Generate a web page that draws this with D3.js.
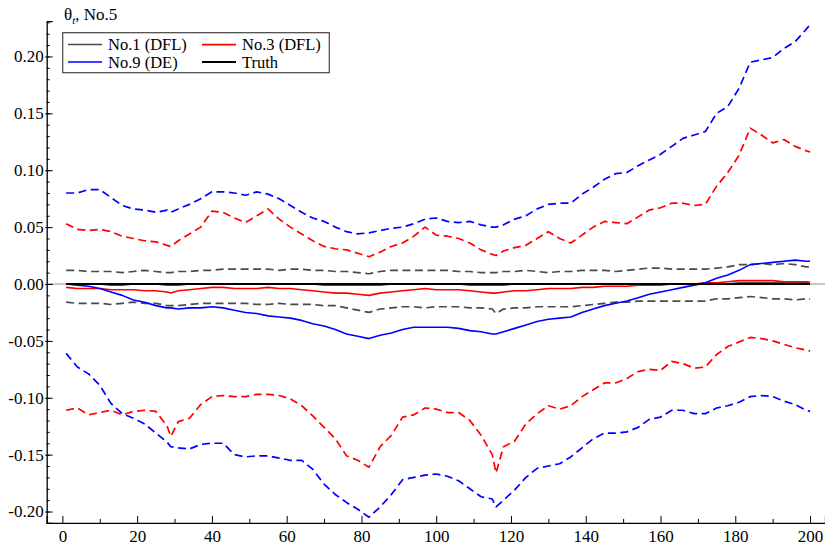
<!DOCTYPE html>
<html>
<head>
<meta charset="utf-8">
<script src="https://cdn.jsdelivr.net/npm/d3@7"></script>
<style>
  html, body { margin: 0; padding: 0; background: #fff; }
  svg { display: block; }
  text { font-family: "Liberation Serif", "Times New Roman", serif; fill: #000; }
</style>
</head>
<body>
<svg id="chart" width="825" height="548"></svg>
<script>
// ---------------- DATA ----------------
const steps = [1,4,7,10,13,16,19,22,25,28,29,31,34,37,40,43,46,49,52,55,58,61,64,67,70,73,76,79,82,85,88,91,94,97,100,103,106,109,112,115,116,118,121,124,127,130,133,136,139,142,145,148,151,154,157,160,163,166,169,172,175,178,181,184,187,190,193,196,199,200];

const no1Upper = [0.012,0.012,0.011,0.011,0.011,0.010,0.011,0.012,0.011,0.010,0.010,0.011,0.011,0.012,0.012,0.013,0.013,0.013,0.013,0.013,0.012,0.013,0.013,0.012,0.012,0.011,0.011,0.010,0.009,0.011,0.012,0.012,0.012,0.012,0.012,0.012,0.011,0.011,0.010,0.010,0.010,0.011,0.011,0.012,0.011,0.010,0.011,0.011,0.012,0.012,0.012,0.011,0.012,0.013,0.014,0.014,0.013,0.013,0.013,0.013,0.014,0.015,0.017,0.017,0.018,0.017,0.018,0.017,0.015,0.015];
const no1Mean  = [0.000,0.000,0.000,0.000,-0.001,-0.001,0.000,0.000,0.000,-0.001,-0.001,-0.001,0.000,0.000,0.000,0.000,0.000,0.000,0.000,0.000,0.000,0.000,0.000,0.000,-0.001,-0.001,-0.001,-0.001,-0.001,-0.001,0.000,0.000,0.000,0.000,0.000,0.000,0.000,-0.001,-0.001,-0.001,-0.001,-0.001,0.000,0.000,0.000,0.000,0.000,0.000,0.000,0.000,0.000,0.000,0.000,0.000,0.000,0.000,0.000,0.000,0.000,0.000,0.000,0.000,0.001,0.001,0.001,0.001,0.001,0.001,0.001,0.001];
const no1Lower = [-0.016,-0.017,-0.017,-0.017,-0.018,-0.017,-0.016,-0.017,-0.017,-0.019,-0.019,-0.019,-0.018,-0.017,-0.017,-0.017,-0.017,-0.017,-0.018,-0.018,-0.017,-0.018,-0.018,-0.018,-0.019,-0.019,-0.021,-0.023,-0.025,-0.022,-0.021,-0.020,-0.020,-0.021,-0.020,-0.020,-0.020,-0.021,-0.021,-0.022,-0.026,-0.022,-0.021,-0.021,-0.020,-0.020,-0.020,-0.020,-0.019,-0.018,-0.017,-0.016,-0.016,-0.015,-0.015,-0.015,-0.015,-0.015,-0.015,-0.015,-0.013,-0.013,-0.012,-0.011,-0.012,-0.013,-0.013,-0.014,-0.013,-0.013];

const no3Upper = [0.053,0.048,0.047,0.048,0.046,0.042,0.040,0.038,0.037,0.034,0.033,0.038,0.044,0.050,0.064,0.063,0.058,0.054,0.060,0.066,0.057,0.050,0.044,0.038,0.033,0.031,0.030,0.027,0.024,0.028,0.033,0.036,0.042,0.050,0.043,0.042,0.040,0.036,0.030,0.026,0.025,0.029,0.032,0.034,0.040,0.046,0.040,0.036,0.043,0.050,0.055,0.054,0.053,0.059,0.065,0.067,0.071,0.071,0.069,0.070,0.086,0.098,0.113,0.137,0.131,0.124,0.127,0.121,0.117,0.116];
const no3Mean  = [-0.003,-0.004,-0.004,-0.004,-0.005,-0.005,-0.005,-0.006,-0.006,-0.007,-0.008,-0.006,-0.005,-0.004,-0.003,-0.003,-0.004,-0.004,-0.004,-0.003,-0.004,-0.004,-0.005,-0.006,-0.007,-0.008,-0.008,-0.009,-0.010,-0.008,-0.007,-0.006,-0.005,-0.004,-0.005,-0.005,-0.005,-0.006,-0.007,-0.008,-0.008,-0.007,-0.006,-0.006,-0.005,-0.004,-0.004,-0.004,-0.003,-0.003,-0.002,-0.002,-0.002,-0.001,-0.001,-0.001,0.000,0.000,0.000,0.001,0.001,0.002,0.003,0.003,0.003,0.003,0.002,0.002,0.002,0.0015];
const no3Lower = [-0.111,-0.109,-0.115,-0.113,-0.111,-0.115,-0.112,-0.111,-0.112,-0.125,-0.134,-0.121,-0.118,-0.106,-0.099,-0.098,-0.099,-0.099,-0.097,-0.097,-0.098,-0.101,-0.107,-0.116,-0.126,-0.136,-0.151,-0.155,-0.161,-0.143,-0.133,-0.117,-0.115,-0.109,-0.110,-0.113,-0.113,-0.120,-0.133,-0.150,-0.166,-0.143,-0.138,-0.123,-0.114,-0.107,-0.110,-0.107,-0.099,-0.093,-0.087,-0.087,-0.083,-0.077,-0.075,-0.076,-0.068,-0.070,-0.074,-0.073,-0.062,-0.055,-0.051,-0.047,-0.048,-0.050,-0.053,-0.056,-0.058,-0.059];

const no9Upper = [0.080,0.080,0.083,0.083,0.076,0.069,0.066,0.065,0.063,0.065,0.063,0.066,0.070,0.075,0.081,0.081,0.080,0.078,0.081,0.079,0.075,0.069,0.063,0.058,0.055,0.050,0.046,0.044,0.045,0.047,0.049,0.050,0.053,0.057,0.058,0.055,0.054,0.055,0.052,0.050,0.050,0.052,0.057,0.060,0.066,0.070,0.071,0.071,0.079,0.085,0.092,0.097,0.098,0.104,0.109,0.114,0.121,0.128,0.131,0.134,0.150,0.156,0.172,0.195,0.197,0.199,0.207,0.213,0.224,0.228];
const no9Mean  = [0.000,-0.001,-0.002,-0.004,-0.007,-0.010,-0.014,-0.016,-0.019,-0.021,-0.021,-0.022,-0.021,-0.021,-0.020,-0.021,-0.023,-0.025,-0.026,-0.028,-0.029,-0.030,-0.032,-0.035,-0.037,-0.040,-0.044,-0.046,-0.048,-0.045,-0.043,-0.040,-0.038,-0.038,-0.038,-0.038,-0.039,-0.041,-0.042,-0.044,-0.044,-0.042,-0.039,-0.036,-0.033,-0.031,-0.030,-0.029,-0.025,-0.022,-0.019,-0.017,-0.015,-0.012,-0.009,-0.007,-0.005,-0.003,-0.001,0.001,0.005,0.008,0.012,0.017,0.018,0.019,0.020,0.021,0.020,0.020];
const no9Lower = [-0.061,-0.073,-0.079,-0.089,-0.105,-0.114,-0.118,-0.123,-0.131,-0.139,-0.143,-0.144,-0.145,-0.141,-0.140,-0.140,-0.150,-0.152,-0.151,-0.151,-0.153,-0.155,-0.155,-0.163,-0.176,-0.185,-0.192,-0.198,-0.205,-0.196,-0.185,-0.172,-0.170,-0.168,-0.167,-0.169,-0.173,-0.180,-0.187,-0.189,-0.196,-0.190,-0.181,-0.170,-0.162,-0.160,-0.158,-0.152,-0.144,-0.136,-0.131,-0.131,-0.130,-0.126,-0.119,-0.117,-0.111,-0.111,-0.114,-0.114,-0.109,-0.107,-0.104,-0.099,-0.098,-0.099,-0.103,-0.106,-0.111,-0.112];

const truthSteps = [1, 200];
const truthValues = [0, 0];

const xTicks = [0,20,40,60,80,100,120,140,160,180,200];
const xMinorTicks = [10,30,50,70,90,110,130,150,170,190];
const yTicks = [-0.20,-0.15,-0.10,-0.05,0.00,0.05,0.10,0.15,0.20];
const yMinorTicks = [-0.21,-0.20,-0.19,-0.18,-0.17,-0.16,-0.15,-0.14,-0.13,-0.12,-0.11,-0.10,-0.09,-0.08,-0.07,-0.06,-0.05,-0.04,-0.03,-0.02,-0.01,0.00,0.01,0.02,0.03,0.04,0.05,0.06,0.07,0.08,0.09,0.10,0.11,0.12,0.13,0.14,0.15,0.16,0.17,0.18,0.19,0.20,0.21,0.22,0.23];

const legendNames = ["No.1 (DFL)", "No.3 (DFL)", "No.9 (DE)", "Truth"];
const titleMain = "θ";
const titleSub = "t";
const titleRest = ", No.5";

// ---------------- DRAW ----------------
const svg = d3.select("#chart");
const x = d3.scaleLinear().domain([-4.2, 204]).range([46.7, 825]);
const y = d3.scaleLinear().domain([-0.21, 0.231]).range([522.9, 21.2]);

const GRAY = "#4a4a4a", RED = "#ff0000", BLUE = "#0000ff";

// zero reference line
svg.append("line")
  .attr("x1", x(-4.2)).attr("x2", x(204))
  .attr("y1", y(0)).attr("y2", y(0))
  .attr("stroke", "#777").attr("stroke-width", 0.8);

const line = d3.line().x(d => x(d[0])).y(d => y(d[1]));
function draw(vals, color, dashed, width, ts) {
  const t = ts || steps;
  svg.append("path")
    .datum(t.map((s, i) => [s, vals[i]]))
    .attr("d", line)
    .attr("fill", "none")
    .attr("stroke", color)
    .attr("stroke-width", width)
    .attr("stroke-linejoin", "round")
    .attr("stroke-dasharray", dashed ? "8,4.5" : null);
}

draw(no1Upper, GRAY, true, 1.7);
draw(no1Lower, GRAY, true, 1.7);
draw(no3Upper, RED, true, 1.7);
draw(no3Lower, RED, true, 1.7);
draw(no9Upper, BLUE, true, 1.7);
draw(no9Lower, BLUE, true, 1.7);
draw(no1Mean, GRAY, false, 1.5);
draw(no3Mean, RED, false, 1.6);
draw(no9Mean, BLUE, false, 1.6);
draw(truthValues, "#000", false, 2.2, truthSteps);

// axes
const fmtY = v => (Math.abs(v) < 1e-9 ? 0 : v).toFixed(2);
const yAxis = svg.append("g").attr("transform", `translate(${x(-4.2)},0)`)
  .call(d3.axisLeft(y).tickValues(yTicks).tickSize(-6).tickPadding(3).tickFormat(fmtY));
yAxis.selectAll(".tick line").attr("x1", -1.5).attr("stroke", "#000");
const yMinor = svg.append("g").attr("transform", `translate(${x(-4.2)},0)`)
  .call(d3.axisLeft(y).tickValues(yMinorTicks).tickSize(-3).tickFormat(""));
yMinor.select(".domain").remove();

const xAxis = svg.append("g").attr("transform", `translate(0,${y(-0.21)})`)
  .call(d3.axisBottom(x).tickValues(xTicks).tickSize(-7).tickPadding(5).tickFormat(d3.format("d")));
const xMinor = svg.append("g").attr("transform", `translate(0,${y(-0.21)})`)
  .call(d3.axisBottom(x).tickValues(xMinorTicks).tickSize(-4).tickFormat(""));
xMinor.select(".domain").remove();

svg.selectAll(".domain").attr("stroke", "#000").attr("stroke-width", 1.3);
svg.selectAll(".tick text")
  .style("font-family", '"Liberation Serif", "Times New Roman", serif')
  .style("font-size", "17px").attr("fill", "#000");
xAxis.selectAll(".tick text").attr("dy", "0.85em");

// title
const title = svg.append("text").attr("x", 64).attr("y", 19.5).style("font-size", "17px");
title.append("tspan").text(titleMain);
title.append("tspan").attr("dy", 4).style("font-size", "11px").style("font-style", "italic").text(titleSub);
title.append("tspan").attr("dy", -4).text(titleRest);

// legend
const lg = svg.append("g");
lg.append("rect").attr("x", 62.7).attr("y", 32.7).attr("width", 266.6).attr("height", 40)
  .attr("fill", "#fff").attr("stroke", "#444").attr("stroke-width", 1.2);
const items = [
  { name: legendNames[0], color: GRAY, w: 1.5, col: 0, row: 0 },
  { name: legendNames[1], color: RED, w: 1.6, col: 1, row: 0 },
  { name: legendNames[2], color: BLUE, w: 1.6, col: 0, row: 1 },
  { name: legendNames[3], color: "#000", w: 2.0, col: 1, row: 1 }
];
const colX = [68, 202], rowY = [44.6, 62.0];
items.forEach(it => {
  const lx = colX[it.col], ly = rowY[it.row];
  lg.append("line").attr("x1", lx).attr("x2", lx + 34).attr("y1", ly).attr("y2", ly)
    .attr("stroke", it.color).attr("stroke-width", it.w);
  lg.append("text").attr("x", lx + 40).attr("y", ly + 5.5).style("font-size", "16.5px").text(it.name);
});
</script>
</body>
</html>
